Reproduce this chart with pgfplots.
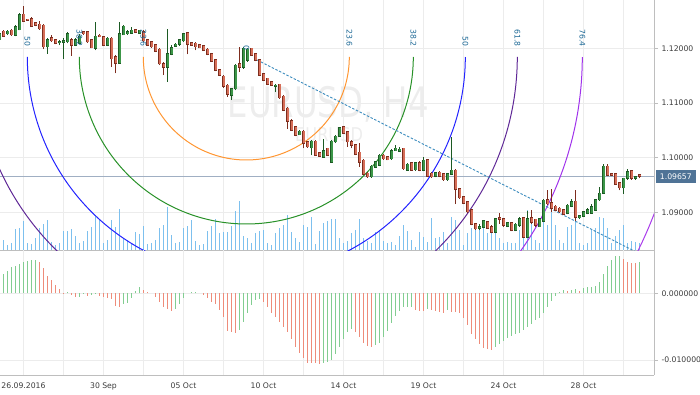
\documentclass[border=0pt]{standalone}
\usepackage{pgfplots}
\pgfplotsset{compat=1.18}
\usepackage{pgfplotstable}
\usepackage{fontspec}
\setmainfont{DejaVu Sans}
\newcommand{\tlfont}{\fontsize{7.7}{9}\selectfont}

\definecolor{gridc}{RGB}{236,236,236}
\definecolor{axisc}{RGB}{190,190,190}
\definecolor{labc}{RGB}{60,60,60}
\definecolor{upfill}{RGB}{60,150,72}
\definecolor{upline}{RGB}{28,90,35}
\definecolor{dnfill}{RGB}{214,110,88}
\definecolor{dnline}{RGB}{125,45,30}
\definecolor{volc}{RGB}{125,192,238}
\definecolor{oscup}{RGB}{130,205,145}
\definecolor{oscdn}{RGB}{238,140,122}
\definecolor{fiblab}{RGB}{30,105,150}
\definecolor{fibA}{RGB}{255,150,50}
\definecolor{fibB}{RGB}{40,145,40}
\definecolor{fibC}{RGB}{35,35,255}
\definecolor{fibD}{RGB}{95,40,150}
\definecolor{fibE}{RGB}{160,50,235}
\definecolor{fibF}{RGB}{170,60,235}
\definecolor{trendc}{RGB}{60,140,190}
\definecolor{pricec}{RGB}{160,175,195}
\definecolor{boxc}{RGB}{79,115,150}
\definecolor{wm}{RGB}{237,237,237}

\pgfplotstableread{
i o h l c vol osc g
0 1.1216 1.1230 1.1214 1.1227 8 0.00225 1
1 1.1231 1.1234 1.1221 1.1222 10 0.00285 1
2 1.1227 1.1234 1.1224 1.1231 5 0.00335 1
3 1.1233 1.1235 1.1223 1.1225 7 0.0039 1
4 1.1224 1.1242 1.1222 1.1239 21 0.00415 1
5 1.1234 1.1264 1.1233 1.1261 22 0.0044 1
6 1.1262 1.1277 1.1249 1.1250 29 0.00465 1
7 1.1253 1.1254 1.1250 1.1251 7 0.0049 1
8 1.1254 1.1257 1.1239 1.1240 6 0.00495 1
9 1.1247 1.1248 1.1240 1.1242 12 0.005 1
10 1.1244 1.1250 1.1234 1.1236 22 0.00465 0
11 1.1242 1.1244 1.1198 1.1203 26 0.00375 0
12 1.1203 1.1218 1.1190 1.1216 30 0.00265 0
13 1.1219 1.1224 1.1212 1.1214 8 0.002 0
14 1.1215 1.1216 1.1207 1.1209 5 0.00125 0
15 1.1210 1.1215 1.1206 1.1212 7 0.0006 0
16 1.1211 1.1218 1.1181 1.1214 19 0.00005 0
17 1.1212 1.1230 1.1209 1.1226 19 0.00025 1
18 1.1216 1.1218 1.1186 1.1206 21 -0.00025 0
19 1.1206 1.1218 1.1204 1.1216 14 -0.0006 0
20 1.1209 1.1226 1.1207 1.1222 7 -0.0005 1
21 1.1230 1.1232 1.1225 1.1227 9 -0.0001 1
22 1.1230 1.1232 1.1210 1.1212 19 -0.0004 0
23 1.1215 1.1216 1.1200 1.1201 23 -0.00025 1
24 1.1200 1.1248 1.1196 1.1222 35 -0.0001 1
25 1.1224 1.1226 1.1220 1.1221 30 -0.0004 0
26 1.1221 1.1222 1.1204 1.1206 7 -0.0005 0
27 1.1206 1.1220 1.1204 1.1218 10 -0.00065 0
28 1.1218 1.1220 1.1166 1.1181 30 -0.0009 0
29 1.1184 1.1187 1.1154 1.1173 23 -0.0019 0
30 1.1173 1.1248 1.1172 1.1226 41 -0.00205 0
31 1.1225 1.1242 1.1224 1.1240 12 -0.00165 1
32 1.1227 1.1233 1.1225 1.1230 10 -0.0014 1
33 1.1228 1.1239 1.1227 1.1233 7 -0.00075 1
34 1.1234 1.1236 1.1228 1.1230 18 0.0004 1
35 1.1228 1.1234 1.1227 1.1233 16 0.0009 1
36 1.1230 1.1234 1.1212 1.1214 24 0.0005 0
37 1.1215 1.1217 1.1204 1.1206 6 0.00025 0
38 1.1212 1.1214 1.1201 1.1203 7 0.0 0
39 1.1206 1.1207 1.1193 1.1195 10 -0.0005 0
40 1.1198 1.1200 1.1169 1.1172 22 -0.00125 0
41 1.1171 1.1175 1.1151 1.1165 25 -0.0021 0
42 1.1166 1.1236 1.1139 1.1190 43 -0.0024 0
43 1.1189 1.1206 1.1187 1.1201 15 -0.0026 0
44 1.1204 1.1210 1.1203 1.1207 7 -0.0024 1
45 1.1207 1.1217 1.1205 1.1215 8 -0.0016 1
46 1.1214 1.1227 1.1212 1.1226 22 -0.00065 1
47 1.1228 1.1230 1.1189 1.1207 24 0.0 1
48 1.1210 1.1212 1.1204 1.1206 30 0.00025 1
49 1.1209 1.1211 1.1196 1.1203 9 0.00025 1
50 1.1206 1.1207 1.1200 1.1201 5 0.0 0
51 1.1204 1.1206 1.1195 1.1196 6 -0.00025 0
52 1.1198 1.1200 1.1187 1.1189 19 -0.00075 0
53 1.1190 1.1192 1.1175 1.1177 24 -0.00125 0
54 1.1179 1.1181 1.1158 1.1160 31 -0.00165 0
55 1.1161 1.1163 1.1149 1.1151 17 -0.0025 0
56 1.1149 1.1151 1.1128 1.1131 18 -0.0035 0
57 1.1132 1.1134 1.1111 1.1116 18 -0.0056 0
58 1.1114 1.1128 1.1105 1.1126 24 -0.00585 0
59 1.1126 1.1172 1.1123 1.1169 39 -0.006 0
60 1.1171 1.1203 1.1157 1.1166 49 -0.0055 1
61 1.1166 1.1203 1.1163 1.1200 14 -0.00425 1
62 1.1178 1.1200 1.1175 1.1198 12 -0.003 1
63 1.1200 1.1201 1.1186 1.1187 7 -0.00175 1
64 1.1190 1.1192 1.1176 1.1178 17 -0.001 1
65 1.1179 1.1181 1.1149 1.1151 19 -0.0009 1
66 1.1153 1.1154 1.1140 1.1142 20 -0.00125 0
67 1.1145 1.1146 1.1132 1.1134 7 -0.002 0
68 1.1139 1.1140 1.1131 1.1132 5 -0.0029 0
69 1.1131 1.1135 1.1120 1.1132 17 -0.0035 0
70 1.1134 1.1135 1.1108 1.1110 22 -0.00425 0
71 1.1112 1.1114 1.1085 1.1087 25 -0.005 0
72 1.1090 1.1092 1.1053 1.1067 35 -0.00575 0
73 1.1067 1.1070 1.1049 1.1050 18 -0.0069 0
74 1.1056 1.1058 1.1039 1.1041 12 -0.0081 0
75 1.1042 1.1050 1.1041 1.1048 8 -0.009 0
76 1.1048 1.1050 1.1017 1.1026 25 -0.00975 0
77 1.1029 1.1031 1.1018 1.1020 23 -0.0104 0
78 1.1018 1.1032 1.1004 1.1030 33 -0.0105 0
79 1.1030 1.1032 1.1003 1.1004 6 -0.0105 0
80 1.1009 1.1010 1.1001 1.1003 19 -0.0106 0
81 1.1001 1.1035 1.1000 1.1013 27 -0.0105 1
82 1.1017 1.1018 1.1003 1.1004 29 -0.01025 1
83 1.0992 1.1032 1.0991 1.1030 31 -0.01 1
84 1.1029 1.1041 1.1027 1.1039 31 -0.0091 1
85 1.1039 1.1056 1.1038 1.1054 12 -0.0081 1
86 1.1056 1.1058 1.1044 1.1045 7 -0.0069 1
87 1.1047 1.1049 1.1020 1.1029 9 -0.00575 1
88 1.1029 1.1032 1.1017 1.1023 17 -0.0054 1
89 1.1023 1.1024 1.1004 1.1006 20 -0.00575 0
90 1.1010 1.1026 1.0983 1.0992 31 -0.0066 0
91 1.0995 1.0997 1.0968 1.0970 12 -0.0075 0
92 1.0971 1.0973 1.0963 1.0965 9 -0.0079 0
93 1.0965 1.0986 1.0963 1.0984 7 -0.008 0
94 1.0983 1.0994 1.0981 1.0992 18 -0.00775 1
95 1.0986 1.1006 1.0984 1.1004 20 -0.0074 1
96 1.1004 1.1006 1.0996 1.0998 9 -0.0066 1
97 1.1001 1.1003 1.0995 1.0996 7 -0.0056 1
98 1.0998 1.1015 1.0996 1.1013 8 -0.0044 1
99 1.1013 1.1023 1.1012 1.1017 5 -0.0034 1
100 1.1012 1.1020 1.1010 1.1015 14 -0.0026 1
101 1.1017 1.1018 1.0978 1.0980 25 -0.0021 1
102 1.0977 1.0990 1.0976 1.0988 19 -0.0021 1
103 1.0990 1.0992 1.0976 1.0977 10 -0.002 1
104 1.0978 1.0992 1.0976 1.0990 3 -0.0025 0
105 1.0991 1.0993 1.0975 1.0977 18 -0.00265 0
106 1.0977 1.1001 1.0975 1.0995 13 -0.0026 0
107 1.0996 1.0998 1.0964 1.0966 8 -0.0024 1
108 1.0971 1.0973 1.0963 1.0965 32 -0.0025 0
109 1.0966 1.0974 1.0964 1.0972 12 -0.0026 0
110 1.0973 1.0975 1.0964 1.0966 13 -0.00275 0
111 1.0970 1.0971 1.0958 1.0960 18 -0.003 0
112 1.0960 1.0971 1.0958 1.0970 7 -0.0025 1
113 1.0970 1.1038 1.0968 1.0977 33 -0.00275 0
114 1.0977 1.0979 1.0915 1.0942 30 -0.00275 0
115 1.0943 1.0945 1.0925 1.0927 20 -0.003 0
116 1.0928 1.0930 1.0915 1.0917 5 -0.00375 0
117 1.0919 1.0921 1.0899 1.0901 17 -0.00475 0
118 1.0904 1.0906 1.0876 1.0878 22 -0.00615 0
119 1.0879 1.0881 1.0868 1.0870 27 -0.0069 0
120 1.0871 1.0878 1.0867 1.0873 22 -0.00765 0
121 1.0873 1.0886 1.0871 1.0884 30 -0.00825 0
122 1.0882 1.0884 1.0870 1.0871 17 -0.0084 0
123 1.0874 1.0876 1.0862 1.0864 20 -0.0085 0
124 1.0864 1.0890 1.0862 1.0888 18 -0.0081 1
125 1.0890 1.0898 1.0879 1.0887 12 -0.0076 1
126 1.0888 1.0890 1.0874 1.0876 7 -0.0071 1
127 1.0875 1.0882 1.0873 1.0881 8 -0.00675 1
128 1.0881 1.0882 1.0865 1.0867 7 -0.0064 1
129 1.0867 1.0880 1.0865 1.0878 7 -0.0061 1
130 1.0876 1.0891 1.0874 1.0888 20 -0.0059 1
131 1.0890 1.0892 1.0853 1.0855 33 -0.0055 1
132 1.0855 1.0902 1.0853 1.0888 40 -0.005 1
133 1.0890 1.0904 1.0879 1.0882 33 -0.0046 1
134 1.0887 1.0888 1.0874 1.0876 10 -0.004 1
135 1.0874 1.0890 1.0873 1.0888 7 -0.00375 1
136 1.0884 1.0924 1.0882 1.0922 40 -0.003 1
137 1.0923 1.0940 1.0914 1.0916 25 -0.002 1
138 1.0917 1.0943 1.0901 1.0907 38 -0.0011 1
139 1.0911 1.0913 1.0902 1.0904 25 -0.0004 1
140 1.0907 1.0909 1.0899 1.0901 10 0.00025 1
141 1.0904 1.0906 1.0895 1.0896 7 0.0005 1
142 1.0898 1.0915 1.0896 1.0913 23 0.00035 0
143 1.0911 1.0925 1.0909 1.0919 25 0.00045 1
144 1.0920 1.0940 1.0885 1.0891 31 0.0006 1
145 1.0890 1.0895 1.0888 1.0893 7 0.0004 0
146 1.0893 1.0902 1.0891 1.0901 5 0.00075 1
147 1.0898 1.0907 1.0896 1.0905 7 0.0009 1
148 1.0899 1.0916 1.0898 1.0910 20 0.001 1
149 1.0904 1.0925 1.0902 1.0923 22 0.0011 1
150 1.0923 1.0946 1.0921 1.0935 33 0.00165 1
151 1.0935 1.0989 1.0934 1.0984 32 0.0029 1
152 1.0984 1.0989 1.0966 1.0968 22 0.0041 1
153 1.0970 1.0971 1.0966 1.0968 7 0.005 1
154 1.0970 1.0971 1.0951 1.0952 14 0.0056 1
155 1.0954 1.0956 1.0940 1.0945 20 0.0056 1
156 1.0945 1.0963 1.0934 1.0962 25 0.0051 0
157 1.0962 1.0980 1.0960 1.0974 7 0.00475 0
158 1.0976 1.0978 1.0960 1.0962 9 0.0045 0
159 1.0962 1.0967 1.0960 1.0965 8 0.0045 0
160 1.0968 1.0970 1.0962 1.09657 7 0.00465 1
}\data

\pgfplotsset{
  panel/.style={scale only axis, width=654pt, xmin=0.125, xmax=163.625, clip mode=individual},
  mainy/.style={height=250pt, ymin=1.083104, ymax=1.128835},
  upc/.style={x filter/.expression={\thisrow{c}>=\thisrow{o} ? x : nan}},
  dnc/.style={x filter/.expression={\thisrow{c}<\thisrow{o} ? x : nan}},
}
\tikzset{fibl/.style={text=fiblab, rotate=-90, anchor=east, inner sep=0pt, font=\tlfont}}

\begin{document}
\begin{tikzpicture}[x=1pt,y=1pt]
\path[use as bounding box] (0pt,-394pt) rectangle (700pt,0pt);

% ---- main panel: grid, ticks, watermark
\begin{axis}[panel, mainy, at={(0pt,0pt)}, anchor=north west,
  axis x line=bottom, axis y line=right,
  axis line style={draw=axisc, line width=0.8pt, -},
  xtick={6,16,...,156}, xticklabels={},
  ytick={1.09,1.10,1.11,1.12}, yticklabels={1.09000,1.10000,1.11000,1.12000},
  xmajorgrids, ymajorgrids, major grid style={draw=gridc, line width=0.8pt},
  x tick style={draw=none}, y tick style={draw=axisc, line width=0.8pt},
  major tick length=4pt, tick align=outside,
  yticklabel style={font=\tlfont, text=labc},
]
\node[text=wm, font=\fontsize{42}{42}\selectfont] at (axis cs:82.2,1.10981) {\scalebox{0.77}[1]{EURUSD, H4}};
\node[text=wm, font=\fontsize{19}{19}\selectfont] at (axis cs:82.4,1.10414) {\scalebox{0.85}[1]{EURUSD}};
\end{axis}

% ---- volume
\begin{axis}[panel, height=250pt, at={(0pt,0pt)}, anchor=north west, ymin=0, ymax=250, hide axis]
\addplot[ycomb, mark=none, draw=volc, line width=1.2pt] table[x=i, y=vol] \data;
\end{axis}

% ---- price plots
\begin{axis}[panel, mainy, at={(0pt,0pt)}, anchor=north west, hide axis]
\addplot[pricec, line width=0.8pt, mark=none] coordinates {(0.125,1.09657) (163.625,1.09657)};
% Fibonacci arcs
\addplot[fibA, line width=1pt, domain=180:360, samples=120] ({61.7+25.75*cos(x)}, {1.11841+0.018840*sin(x)});
\addplot[fibB, line width=1pt, domain=180:360, samples=150] ({61.7+41.75*cos(x)}, {1.11841+0.030547*sin(x)});
\addplot[fibC, line width=1pt, domain=180:360, samples=180] ({61.7+54.75*cos(x)}, {1.11841+0.040059*sin(x)});
\addplot[fibD, line width=1pt, domain=180:360, samples=200] ({61.7+67.75*cos(x)}, {1.11841+0.049570*sin(x)});
\addplot[fibE, line width=1pt, domain=180:360, samples=220] ({61.7+84.0*cos(x)}, {1.11841+0.061460*sin(x)});
\addplot[fibF, line width=1pt, domain=180:360, samples=260] ({61.7+109.25*cos(x)}, {1.11841+0.079934*sin(x)});
% trend line
\addplot[trendc, line width=0.9pt, dash pattern=on 2.5pt off 1.6pt, mark=none] coordinates {(64.4,1.11786) (165,1.08058)};
% candles: wicks
\addplot[upc, mark=none, upline, line width=1pt, quiver={u=0, v=\thisrow{h}-\thisrow{l}}] table[x=i, y=l] \data;
\addplot[dnc, mark=none, dnline, line width=1pt, quiver={u=0, v=\thisrow{h}-\thisrow{l}}] table[x=i, y=l] \data;
% bodies (outline + fill)
\addplot[upc, mark=none, upline, line width=3.4pt, quiver={u=0, v=\thisrow{c}-\thisrow{o}+0.00024}] table[x=i, y expr=\thisrow{o}-0.00012] \data;
\addplot[upc, mark=none, upfill, line width=2pt, quiver={u=0, v=\thisrow{c}-\thisrow{o}}] table[x=i, y=o] \data;
\addplot[dnc, mark=none, dnline, line width=3.4pt, quiver={u=0, v=\thisrow{o}-\thisrow{c}+0.00024}] table[x=i, y expr=\thisrow{c}-0.00012] \data;
\addplot[dnc, mark=none, dnfill, line width=2pt, quiver={u=0, v=\thisrow{o}-\thisrow{c}}] table[x=i, y=c] \data;
% arc labels
\node[fibl] at (axis cs:6.95,1.12024) {50};
\node[fibl] at (axis cs:19.95,1.12024) {38.2};
\node[fibl] at (axis cs:35.95,1.12024) {23.6};
\node[fibl] at (axis cs:61.7,1.11950) {0};
\node[fibl] at (axis cs:87.45,1.12024) {23.6};
\node[fibl] at (axis cs:103.45,1.12024) {38.2};
\node[fibl] at (axis cs:116.45,1.12024) {50};
\node[fibl] at (axis cs:129.45,1.12024) {61.8};
\node[fibl] at (axis cs:145.7,1.12024) {76.4};
% current price box
\node[fill=boxc, text=white, font=\tlfont, anchor=west, inner xsep=4.2pt, inner ysep=0pt, minimum height=13.5pt, xshift=1.5pt] at (axis cs:163.625,1.09657) {1.09657};
\end{axis}

% ---- oscillator panel
\begin{axis}[panel, at={(0pt,-250pt)}, anchor=north west, height=125pt,
  ymin=-0.01225, ymax=0.0065,
  axis x line=bottom, axis y line=right,
  axis line style={draw=axisc, line width=0.8pt, -},
  xtick={6,16,...,156},
  xticklabels={26.09.2016,,30 Sep,,05 Oct,,10 Oct,,14 Oct,,19 Oct,,24 Oct,,28 Oct,},
  ytick={-0.01,0}, yticklabels={-0.010000,0.000000},
  xmajorgrids, ymajorgrids, major grid style={draw=gridc, line width=0.8pt},
  x tick style={draw=none}, y tick style={draw=axisc, line width=0.8pt},
  major tick length=4pt, tick align=outside,
  yticklabel style={font=\tlfont, text=labc},
  xticklabel style={font=\tlfont, text=labc},
]
\addplot[ycomb, mark=none, draw=oscup, line width=1.2pt, x filter/.expression={\thisrow{g}>0.5 ? x : nan}] table[x=i, y=osc] \data;
\addplot[ycomb, mark=none, draw=oscdn, line width=1.2pt, x filter/.expression={\thisrow{g}<0.5 ? x : nan}] table[x=i, y=osc] \data;
\end{axis}
\end{tikzpicture}
\end{document}
